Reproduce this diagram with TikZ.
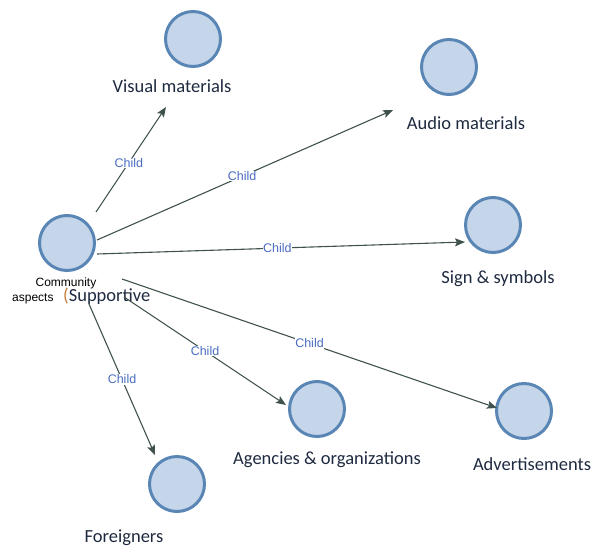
\documentclass[tikz,border=0pt]{standalone}
\usepackage{fontspec}
\setmainfont{Carlito}
\newfontfamily\smallsans{Liberation Sans}
\usetikzlibrary{arrows.meta}
\definecolor{ringblue}{HTML}{5A86B6}
\definecolor{ringfill}{HTML}{C6D6EA}
\definecolor{linkgray}{HTML}{3F524D}
\definecolor{tagblue}{HTML}{4A6CC0}
\definecolor{labelink}{HTML}{1E2A40}
\definecolor{parenorange}{HTML}{C47A3A}
\tikzset{
  x=1pt, y=-1pt,
  topic/.style={circle, draw=ringblue, line width=3pt, fill=ringfill,
    minimum size=55pt, inner sep=0pt},
  caption/.style={font=\fontsize{18.5}{20}\selectfont, text=labelink, inner sep=0pt},
  link/.style={draw=linkgray, line width=1.1pt,
    -{Stealth[length=10pt, width=8pt, inset=2pt]}},
  tag/.style={font=\smallsans\fontsize{12.5}{14}\selectfont, text=tagblue,
    fill=white, inner sep=0.5pt}
}
\begin{document}
\begin{tikzpicture}
\useasboundingbox (0,0) rectangle (593,548);

% circles
\node[topic] (hub) at (67,243) {};
\node[topic] (visual) at (193,39) {};
\node[topic] (audio) at (449,67) {};
\node[topic] (sign) at (493,225) {};
\node[topic] (agency) at (317,409) {};
\node[topic] (advert) at (524,411) {};
\node[topic] (foreign) at (177,484) {};

% captions
\node[caption] (visualtxt) at (172,86) {Visual materials};
\node[caption] (audiotxt) at (466,123) {Audio materials};
\node[caption] (signtxt) at (498,279) {Sign \& symbols};
\node[caption] (agencytxt) at (327,460) {Agencies \& organizations};
\node[caption] (adverttxt) at (532,464) {Advertisements};
\node[caption] (foreigntxt) at (124,538) {Foreigners};
\node[font=\smallsans\fontsize{12}{13}\selectfont, text=black, inner sep=0pt]
  (hubtxtA) at (66,283) {Community};
\node[font=\smallsans\fontsize{12}{13}\selectfont, text=black, inner sep=0pt, anchor=base west]
  (hubtxtB) at (12,301) {aspects};
\node[caption, anchor=base west] (hubtxtC) at (63,301)
  {\textcolor{parenorange}{(}Supportive};

% connector end points
\coordinate (sV) at (96,212);   \coordinate (eV) at (166,107);
\coordinate (sA) at (97,240);   \coordinate (eA) at (393,110);
\coordinate (sS) at (97,254);   \coordinate (eS) at (465,242);
\coordinate (sD) at (122,279);  \coordinate (eD) at (497,408);
\coordinate (sG) at (124,297);  \coordinate (eG) at (286,405);
\coordinate (sF) at (89,304);   \coordinate (eF) at (155,455);

% connectors
\draw[link] (sV) -- node[tag, pos=0.47] (tV) {Child} (eV);
\draw[link] (sA) -- node[tag, pos=0.49] (tA) {Child} (eA);
\draw[link] (sS) -- node[tag, pos=0.49] (tS) {Child} (eS);
\draw[link] (sD) -- node[tag, pos=0.5] (tD) {Child} (eD);
\draw[link] (sG) -- node[tag, pos=0.5] (tG) {Child} (eG);
\draw[link] (sF) -- node[tag, pos=0.5] (tF) {Child} (eF);
\end{tikzpicture}
\end{document}
